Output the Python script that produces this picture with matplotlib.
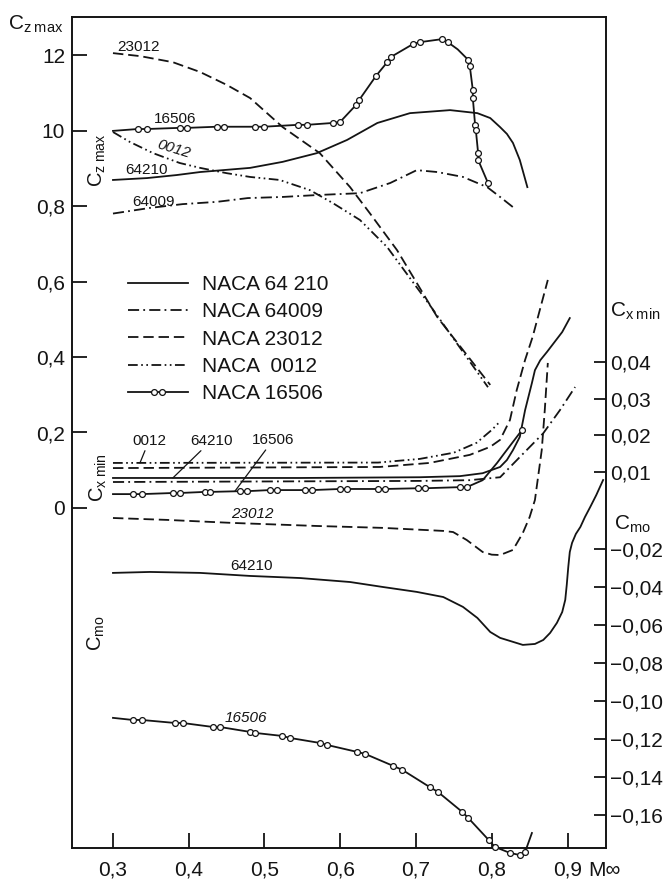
import matplotlib
matplotlib.use("Agg")
import matplotlib.pyplot as plt
from matplotlib.lines import Line2D
from matplotlib.legend_handler import HandlerLine2D, HandlerTuple

plt.rcParams["font.family"] = ["Liberation Sans", "DejaVu Sans"]
plt.rcParams["mathtext.fontset"] = "custom"
plt.rcParams["mathtext.rm"] = "Liberation Sans"
plt.rcParams["mathtext.it"] = "Liberation Sans"
plt.rcParams["lines.scale_dashes"] = False

# ---------------- axis ticks ----------------
MACH_TICKS = [0.3, 0.4, 0.5, 0.6, 0.7, 0.8, 0.9]
MACH_LABELS = ["0,3", "0,4", "0,5", "0,6", "0,7", "0,8", "0,9"]
CZ_TICKS = [0.0, 0.2, 0.4, 0.6, 0.8, 1.0, 1.2]
CZ_LABELS = ["0", "0,2", "0,4", "0,6", "0,8", "10", "12"]
CX_TICKS = [0.01, 0.02, 0.03, 0.04]
CX_LABELS = ["0,01", "0,02", "0,03", "0,04"]
CM_TICKS = [-0.02, -0.04, -0.06, -0.08, -0.10, -0.12, -0.14, -0.16]
CM_LABELS = ["\u22120,02", "\u22120,04", "\u22120,06", "\u22120,08",
             "\u22120,10", "\u22120,12", "\u22120,14", "\u22120,16"]

# ---------------- maximum lift coefficient Cz max ----------------
cz_23012_m = [0.300, 0.336, 0.379, 0.415, 0.450, 0.481, 0.524, 0.573, 0.613,
              0.639, 0.675, 0.728, 0.798]
cz_23012 = [1.205, 1.197, 1.181, 1.155, 1.121, 1.086, 1.009, 0.940, 0.850,
            0.781, 0.683, 0.506, 0.326]

cz_0012_m = [0.300, 0.322, 0.353, 0.388, 0.415, 0.450, 0.481, 0.520, 0.560,
             0.590, 0.626, 0.662, 0.718, 0.795]
cz_0012 = [0.996, 0.970, 0.940, 0.914, 0.901, 0.887, 0.877, 0.869, 0.842,
           0.808, 0.763, 0.691, 0.538, 0.320]

cz_64210_m = [0.300, 0.345, 0.384, 0.415, 0.481, 0.524, 0.569, 0.609, 0.649,
              0.692, 0.745, 0.781, 0.798, 0.811, 0.820, 0.828, 0.837, 0.847]
cz_64210 = [0.869, 0.874, 0.882, 0.890, 0.901, 0.917, 0.940, 0.975, 1.020,
            1.046, 1.054, 1.046, 1.033, 1.009, 0.991, 0.967, 0.922, 0.850]

cz_64009_m = [0.300, 0.349, 0.392, 0.437, 0.478, 0.524, 0.569, 0.626, 0.666,
              0.701, 0.728, 0.762, 0.794, 0.811, 0.828]
cz_64009 = [0.780, 0.795, 0.805, 0.811, 0.821, 0.824, 0.829, 0.834, 0.861,
            0.895, 0.890, 0.877, 0.850, 0.824, 0.797]

cz_16506_m = [0.300, 0.333, 0.345, 0.388, 0.398, 0.437, 0.447, 0.487, 0.499,
              0.544, 0.556, 0.590, 0.600, 0.621, 0.625, 0.647, 0.662, 0.667,
              0.696, 0.705, 0.734, 0.742, 0.755, 0.769, 0.771, 0.775, 0.775,
              0.778, 0.779, 0.782, 0.782, 0.795]
cz_16506 = [0.999, 1.004, 1.004, 1.007, 1.007, 1.010, 1.010, 1.010, 1.010,
            1.015, 1.015, 1.020, 1.023, 1.068, 1.081, 1.144, 1.181, 1.195,
            1.229, 1.234, 1.242, 1.234, 1.215, 1.187, 1.171, 1.107, 1.086,
            1.015, 1.001, 0.940, 0.922, 0.861]
cz_16506_pts = list(range(1, 22)) + list(range(23, 32))

# ---------------- minimum drag coefficient Cx min ----------------
cx_23012_m = [0.300, 0.652, 0.718, 0.771, 0.798, 0.811, 0.824, 0.833, 0.844,
              0.854, 0.874]
cx_23012 = [0.0111, 0.0114, 0.0125, 0.0147, 0.0169, 0.0188, 0.0242, 0.0324,
            0.0406, 0.0469, 0.0624]

cx_0012_m = [0.300, 0.650, 0.705, 0.750, 0.780, 0.800, 0.810]
cx_0012 = [0.0125, 0.0126, 0.0136, 0.0153, 0.0180, 0.0215, 0.0236]

cx_64210_m = [0.300, 0.547, 0.705, 0.758, 0.788, 0.811, 0.820, 0.828, 0.837,
              0.844, 0.853, 0.857, 0.864, 0.873, 0.893, 0.903]
cx_64210 = [0.0084, 0.0084, 0.0086, 0.0089, 0.0097, 0.0114, 0.0133, 0.0160,
            0.0196, 0.0269, 0.0343, 0.0378, 0.0405, 0.0428, 0.0482, 0.0520]

cx_64009_m = [0.300, 0.705, 0.771, 0.811, 0.837, 0.868, 0.890, 0.910]
cx_64009 = [0.0073, 0.0076, 0.0078, 0.0086, 0.0141, 0.0206, 0.0269, 0.0332]

cx_16506_m = [0.300, 0.326, 0.338, 0.379, 0.388, 0.421, 0.428, 0.468, 0.477,
              0.507, 0.517, 0.553, 0.563, 0.600, 0.609, 0.650, 0.659, 0.703,
              0.712, 0.758, 0.767, 0.788, 0.807, 0.815, 0.840]
cx_16506 = [0.0040, 0.0040, 0.0040, 0.0043, 0.0043, 0.0046, 0.0046, 0.0048,
            0.0048, 0.0051, 0.0051, 0.0051, 0.0051, 0.0054, 0.0054, 0.0054,
            0.0054, 0.0056, 0.0056, 0.0059, 0.0059, 0.0078, 0.0125, 0.0147,
            0.0215]
cx_16506_pts = list(range(1, 21)) + [24]

# ---------------- pitching moment coefficient Cmo ----------------
cm_64210_m = [0.300, 0.349, 0.415, 0.481, 0.547, 0.613, 0.656, 0.701, 0.736,
              0.762, 0.781, 0.798, 0.811, 0.824, 0.841, 0.857, 0.868, 0.877,
              0.886, 0.893, 0.897, 0.899, 0.901, 0.903, 0.906, 0.911, 0.917,
              0.923, 0.930, 0.938, 0.947]
cm_64210 = [-0.0326, -0.0321, -0.0326, -0.0342, -0.0353, -0.0374, -0.0400,
            -0.0426, -0.0453, -0.0505, -0.0563, -0.0637, -0.0668, -0.0684,
            -0.0705, -0.0700, -0.0679, -0.0642, -0.0589, -0.0532, -0.0468,
            -0.0389, -0.0295, -0.0216, -0.0168, -0.0121, -0.0084, -0.0032,
            0.0021, 0.0084, 0.0163]

cm_23012_m = [0.300, 0.371, 0.458, 0.569, 0.656, 0.736, 0.749, 0.767, 0.788,
              0.800, 0.811, 0.828, 0.841, 0.850, 0.857, 0.866, 0.870, 0.874]
cm_23012 = [-0.0037, -0.0047, -0.0063, -0.0079, -0.0089, -0.0105, -0.0111,
            -0.0153, -0.0216, -0.0230, -0.0232, -0.0205, -0.0116, -0.0032,
            0.0058, 0.0321, 0.0532, 0.0779]

cm_16506_m = [0.300, 0.326, 0.338, 0.382, 0.392, 0.432, 0.441, 0.481, 0.487,
              0.523, 0.534, 0.573, 0.583, 0.622, 0.633, 0.670, 0.682, 0.718,
              0.729, 0.761, 0.769, 0.796, 0.804, 0.824, 0.837, 0.844, 0.853]
cm_16506 = [-0.1089, -0.1100, -0.1100, -0.1116, -0.1116, -0.1137, -0.1137,
            -0.1163, -0.1168, -0.1184, -0.1195, -0.1221, -0.1232, -0.1268,
            -0.1279, -0.1342, -0.1363, -0.1453, -0.1479, -0.1584, -0.1616,
            -0.1732, -0.1768, -0.1800, -0.1811, -0.1795, -0.1695]
cm_16506_pts = list(range(1, 26))

# ---------------- styles ----------------
INK = "#141414"
LW = 1.3
STYLE = {
    "64210": "-",
    "64009": (0, (8, 3, 1.3, 3)),
    "23012": (0, (7.5, 3.5)),
    "0012": (0, (7, 2.5, 1.2, 2.5, 1.2, 2.5)),
    "16506": "-",
}
CIRCLE = dict(marker="o", ms=4.2, mfc="white", mec=INK, mew=0.9)

W, H = 668, 880


def fpos(x, y):
    return x / W, 1 - y / H


fig = plt.figure(figsize=(W / 100, H / 100), dpi=100)
fig.patch.set_facecolor("white")
ax = fig.add_axes([72 / W, 1 - 848 / H, (606 - 72) / W, (848 - 17) / H])
ax.set_xlim(0.2459, 0.9508)
ax.set_ylim(-0.9007, 1.3007)
ax_cx = ax.twinx()
ax_cx.set_ylim(-0.0925, 0.1341)
ax_cm = ax.twinx()
ax_cm.set_ylim(-0.1774, 0.2600)

for s in ax.spines.values():
    s.set_linewidth(1.4)
    s.set_color(INK)
for a in (ax_cx, ax_cm):
    for s in a.spines.values():
        s.set_visible(False)

ax.set_xticks(MACH_TICKS)
ax.set_xticklabels(MACH_LABELS)
ax.set_yticks(CZ_TICKS)
ax.set_yticklabels(CZ_LABELS)
ax.tick_params(direction="in", length=11, width=1.3, labelsize=15,
               colors=INK)
ax.tick_params(axis="x", pad=9)
ax.tick_params(axis="y", pad=5, left=True, right=False)

ax_cx.set_yticks(CX_TICKS)
ax_cx.set_yticklabels(CX_LABELS)
ax_cm.set_yticks(CM_TICKS)
ax_cm.set_yticklabels(CM_LABELS)
for a in (ax_cx, ax_cm):
    a.tick_params(axis="y", direction="in", length=9, width=1.3, pad=3,
                  labelsize=15, colors=INK)

# Cz max curves
ax.plot(cz_23012_m, cz_23012, color=INK, lw=LW, ls=STYLE["23012"])
ax.plot(cz_0012_m, cz_0012, color=INK, lw=LW, ls=STYLE["0012"])
ax.plot(cz_64210_m, cz_64210, color=INK, lw=LW, ls=STYLE["64210"])
ax.plot(cz_64009_m, cz_64009, color=INK, lw=LW, ls=STYLE["64009"])
ax.plot(cz_16506_m, cz_16506, color=INK, lw=LW, ls=STYLE["16506"],
        markevery=cz_16506_pts, **CIRCLE)

# Cx min curves
ax_cx.plot(cx_23012_m, cx_23012, color=INK, lw=LW, ls=STYLE["23012"])
ax_cx.plot(cx_0012_m, cx_0012, color=INK, lw=LW, ls=STYLE["0012"])
ax_cx.plot(cx_64210_m, cx_64210, color=INK, lw=LW, ls=STYLE["64210"])
ax_cx.plot(cx_64009_m, cx_64009, color=INK, lw=LW, ls=STYLE["64009"])
ax_cx.plot(cx_16506_m, cx_16506, color=INK, lw=LW, ls=STYLE["16506"],
           markevery=cx_16506_pts, **CIRCLE)

# Cmo curves
ax_cm.plot(cm_23012_m, cm_23012, color=INK, lw=LW, ls=STYLE["23012"])
ax_cm.plot(cm_64210_m, cm_64210, color=INK, lw=LW, ls=STYLE["64210"])
ax_cm.plot(cm_16506_m, cm_16506, color=INK, lw=LW, ls=STYLE["16506"],
           markevery=cm_16506_pts, clip_on=False, **CIRCLE)

# curve labels
lab = dict(fontsize=11, color=INK, ha="center", va="center")
ax.text(0.3343, 1.221, "23012", **lab)
ax.text(0.3818, 1.030, "16506", **lab)
ax.text(0.3805, 0.951, "0012", rotation=-17, style="italic", **lab)
ax.text(0.3436, 0.895, "64210", **lab)
ax.text(0.3541, 0.811, "64009", **lab)

arrow = dict(arrowstyle="-", color=INK, lw=0.9, shrinkA=0, shrinkB=0)
ax_cx.annotate("0012", xy=(0.3356, 0.0125), xytext=(0.3475, 0.0185),
               arrowprops=arrow, **lab)
ax_cx.annotate("64210", xy=(0.379, 0.0084), xytext=(0.4294, 0.0185),
               arrowprops=arrow, **lab)
ax_cx.annotate("16506", xy=(0.461, 0.0048), xytext=(0.5112, 0.0187),
               arrowprops=arrow, **lab)

ax_cm.text(0.4835, -0.0016, "23012", style="italic", **lab)
ax_cm.text(0.4835, -0.0289, "64210", **lab)
ax_cm.text(0.4756, -0.1089, "16506", style="italic", **lab)

# axis titles
fig.text(*fpos(8, 24), r"C$_{\rm z\;max}$", fontsize=15, color=INK,
         ha="left", va="center")
fig.text(*fpos(97, 160), r"C$_{\rm z\;max}$", fontsize=14.5, color=INK,
         rotation=90, ha="center", va="center")
fig.text(*fpos(98, 478), r"C$_{\rm x\;min}$", fontsize=14.5, color=INK,
         rotation=90, ha="center", va="center")
fig.text(*fpos(96, 633), r"C$_{\rm mo}$", fontsize=14.5, color=INK,
         rotation=90, ha="center", va="center")
fig.text(*fpos(610, 311), r"C$_{\rm x\;min}$", fontsize=15, color=INK,
         ha="left", va="center")
fig.text(*fpos(614, 524), r"C$_{\rm mo}$", fontsize=15, color=INK,
         ha="left", va="center")
fig.text(*fpos(588, 870), "M\u221e", fontsize=15, color=INK,
         ha="left", va="center")

# legend
h64210 = Line2D([], [], color=INK, lw=LW, ls=STYLE["64210"])
h64009 = Line2D([], [], color=INK, lw=LW, ls=STYLE["64009"])
h23012 = Line2D([], [], color=INK, lw=LW, ls=STYLE["23012"])
h0012 = Line2D([], [], color=INK, lw=LW, ls=STYLE["0012"])
h16506_line = Line2D([], [], color=INK, lw=LW, ls="-")
h16506_dots = Line2D([], [], ls="none", **CIRCLE)
leg = ax.legend(
    [h64210, h64009, h23012, h0012, (h16506_line, h16506_dots)],
    ["NACA 64 210", "NACA 64009", "NACA 23012", "NACA  0012", "NACA 16506"],
    handler_map={h16506_dots: HandlerLine2D(numpoints=2, marker_pad=1.25),
                 tuple: HandlerTuple(ndivide=1, pad=0)},
    loc="upper left", bbox_to_anchor=fpos(128, 275),
    bbox_transform=fig.transFigure, frameon=False, fontsize=15,
    borderpad=0, borderaxespad=0, handlelength=2.88, handletextpad=0.67,
    labelspacing=0.4,
)
for t in leg.get_texts():
    t.set_color(INK)

fig.savefig("out.png", dpi=100, facecolor="white")
